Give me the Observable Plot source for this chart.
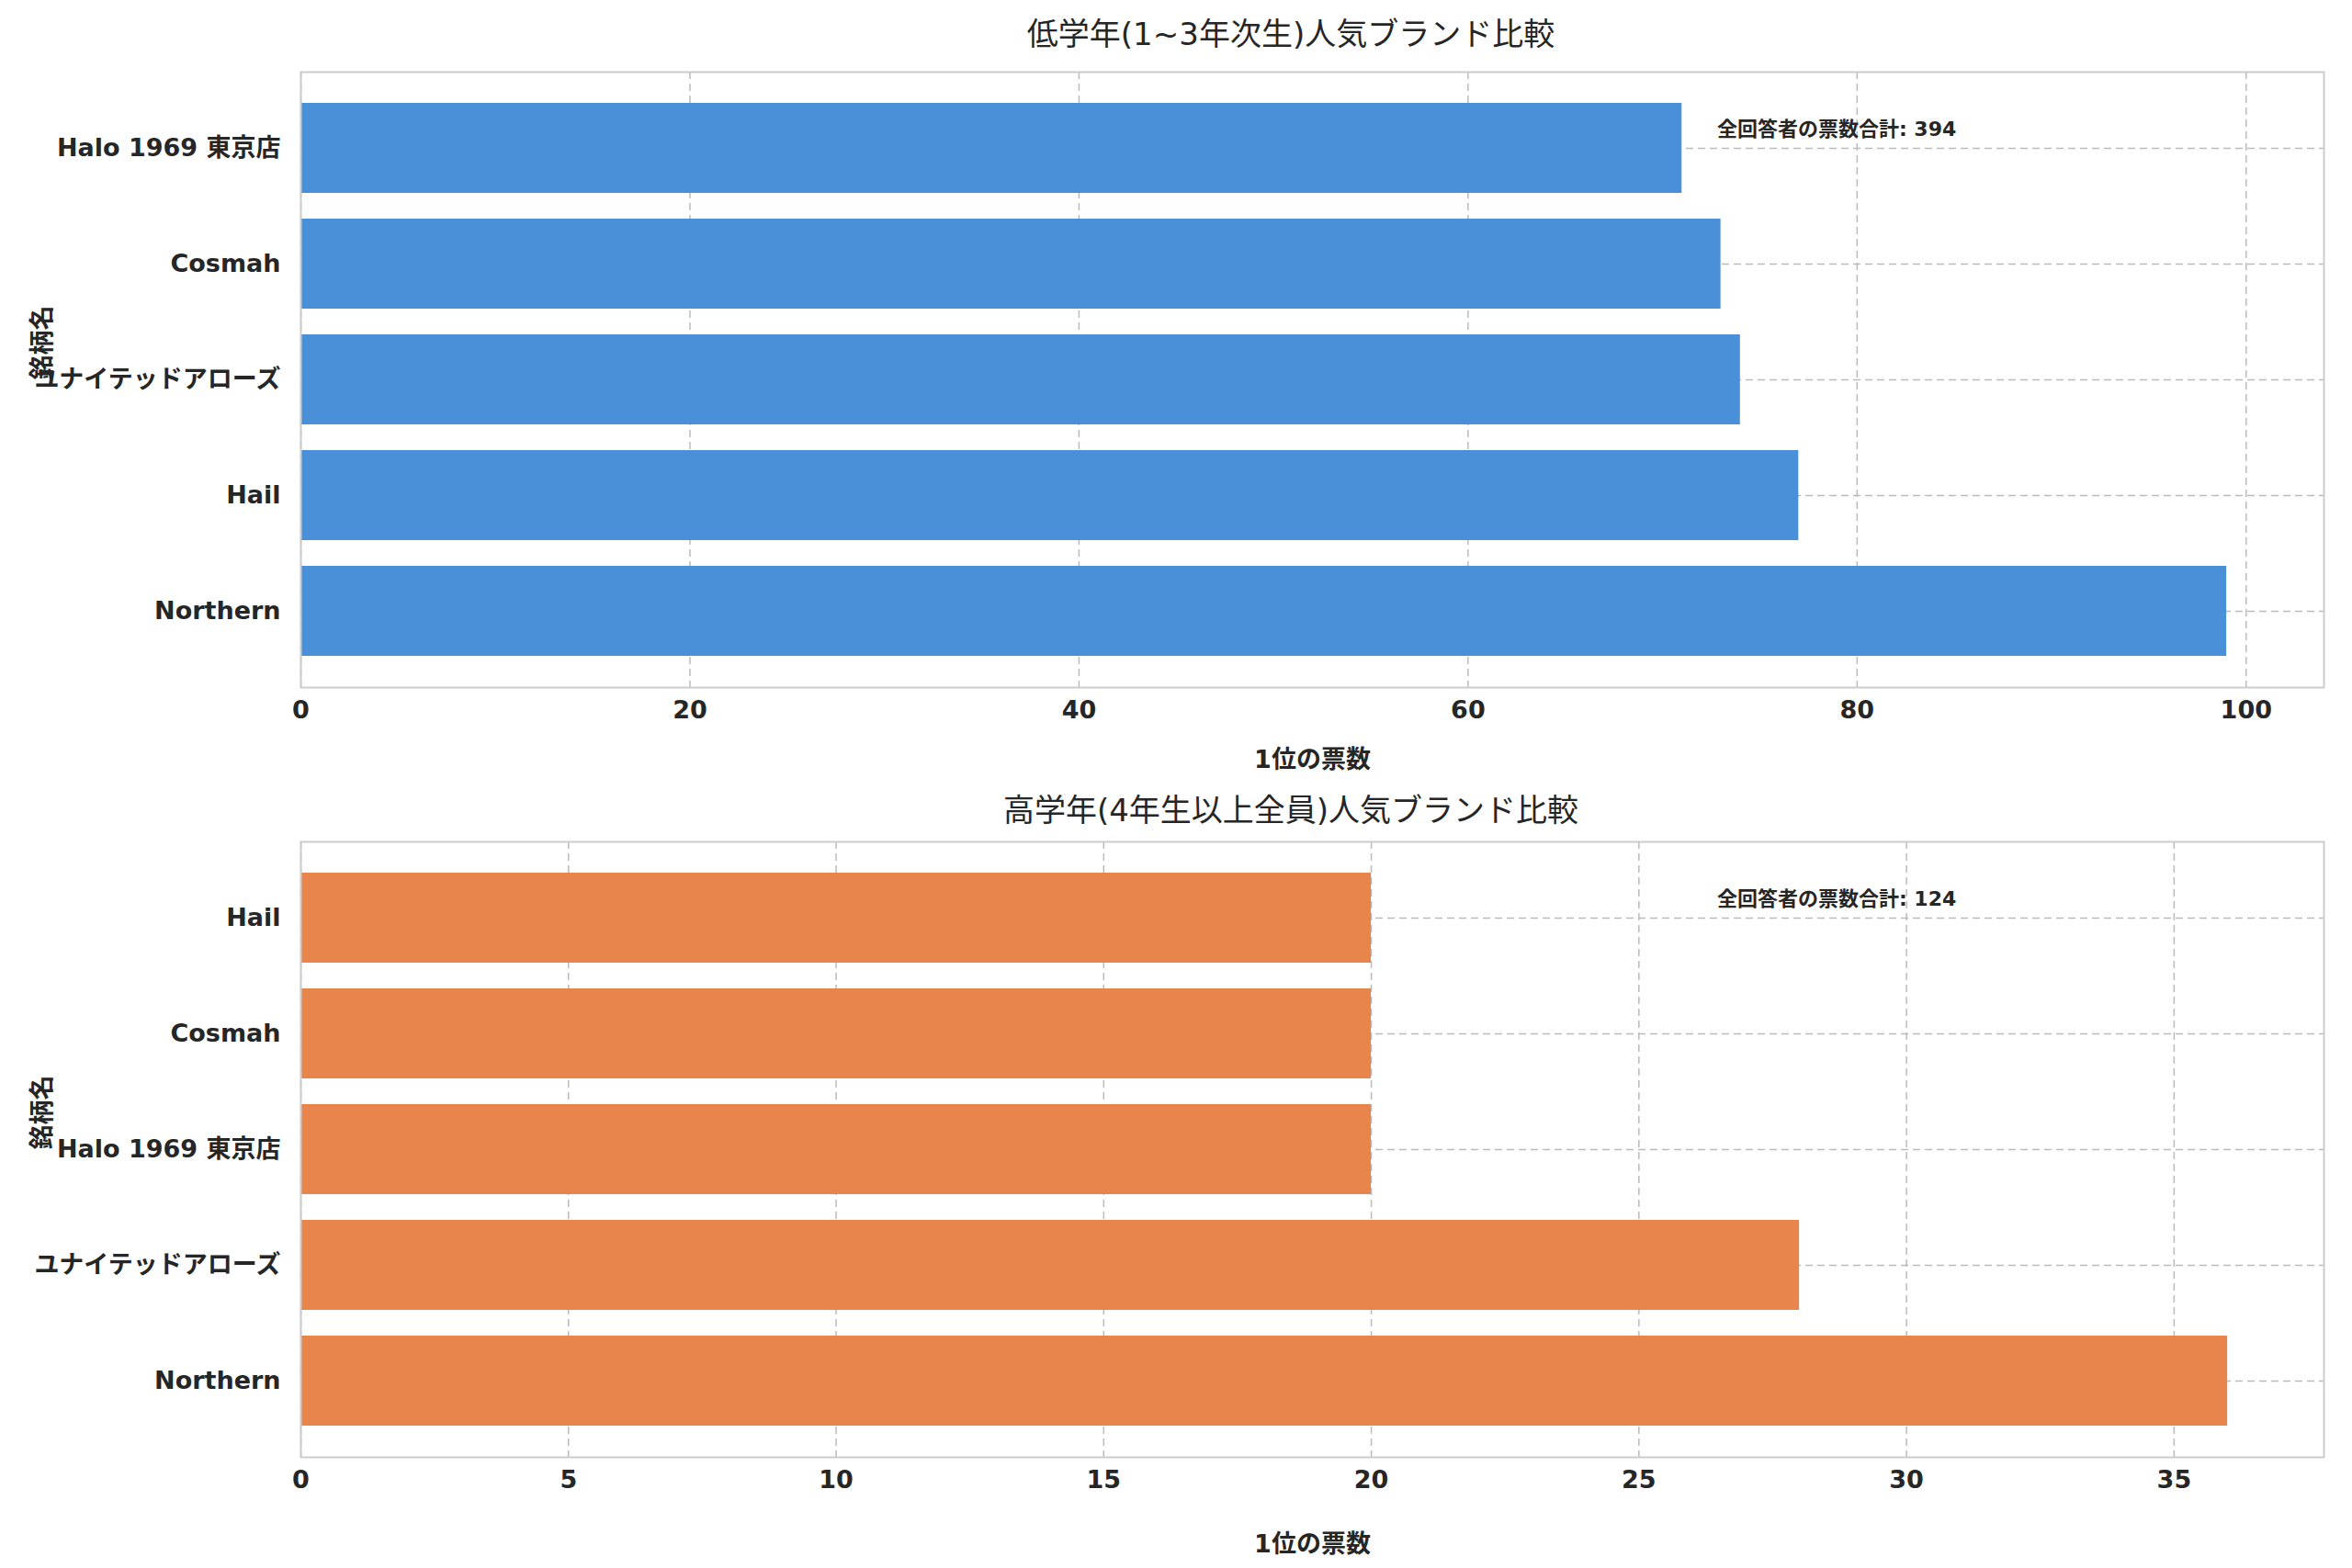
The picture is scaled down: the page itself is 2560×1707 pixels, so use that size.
<!DOCTYPE html>
<html><head><meta charset="utf-8">
<script src="https://cdn.jsdelivr.net/npm/d3@7"></script>
<script src="https://cdn.jsdelivr.net/npm/@observablehq/plot@0.6"></script>
<style>
body{margin:0;background:#fff;font-family:"DejaVu Sans","Noto Sans CJK JP",sans-serif;color:#262626}
.t{text-align:center;font-size:34px;padding-left:300px;box-sizing:border-box;width:2560px}
</style></head><body>
<div id="c"></div>
<script>
const lowerCats = ["Halo 1969 東京店","Cosmah","ユナイテッドアローズ","Hail","Northern"];
const lowerVals = [71,73,74,77,99];
const upperCats = ["Hail","Cosmah","Halo 1969 東京店","ユナイテッドアローズ","Northern"];
const upperVals = [20,20,20,28,36];
const lowerTicks = [0,20,40,60,80,100];
const upperTicks = [0,5,10,15,20,25,30,35];
const titles = ["低学年(1~3年次生)人気ブランド比較","高学年(4年生以上全員)人気ブランド比較"];
const noteLabel = "全回答者の票数合計";
const xLabel = "1位の票数";
const yLabel = "銘柄名";

const c = document.getElementById("c");
function panel(title, cats, vals, ticks, xmax, color, titleH, svgH, mb){
  const d = document.createElement("div");
  d.className="t"; d.style.height=titleH+"px"; d.style.lineHeight=(titleH+4)+"px"; d.style.paddingLeft="250px";
  d.textContent=title; c.appendChild(d);
  const data = cats.map((k,i)=>({k,v:vals[i]}));
  const total = d3.sum(vals);
  const font = {fontSize:27,fontWeight:"bold"};
  const p = Plot.plot({
    width:2560,height:svgH,marginLeft:327,marginRight:31,marginTop:8,marginBottom:mb,
    style:{fontFamily:'"DejaVu Sans","Noto Sans CJK JP",sans-serif',color:"#262626",background:"#fff"},
    x:{domain:[0,xmax],ticks:ticks,label:null},
    y:{domain:cats,paddingInner:0.22,paddingOuter:0.25,label:null},
    marks:[
      Plot.gridX(ticks,{stroke:"#bbb",strokeOpacity:1,strokeDasharray:"8,5",strokeWidth:1.5}),
      Plot.gridY(cats,{stroke:"#bbb",strokeOpacity:1,strokeDasharray:"8,5",strokeWidth:1.5}),
      Plot.barX(data,{x:"v",y:"k",fill:color}),
      Plot.frame({stroke:"#ccc",strokeWidth:2}),
      Plot.axisX({ticks:ticks,tickSize:0,tickPadding:14,...font,label:null}),
      Plot.axisY({tickSize:0,tickPadding:22,...font,label:null}),
      Plot.text([xLabel],{frameAnchor:"bottom",dy:mb-18,fontSize:27,fontWeight:"bold"}),
      Plot.text([yLabel],{frameAnchor:"left",dx:-281,rotate:-90,fontSize:27,fontWeight:"bold"}),
      Plot.text([noteLabel+": "+total],{x:[xmax*0.7],y:[cats[0]],dy:-21,textAnchor:"start",fontSize:22,fontWeight:"bold",fill:"#262626"})
    ]
  });
  c.appendChild(p);
}
panel(titles[0],lowerCats,lowerVals,lowerTicks,104,"#4a90d9",70,783,105);
panel(titles[1],upperCats,upperVals,upperTicks,37.8,"#e8854d",55,799,121);
</script></body></html>
